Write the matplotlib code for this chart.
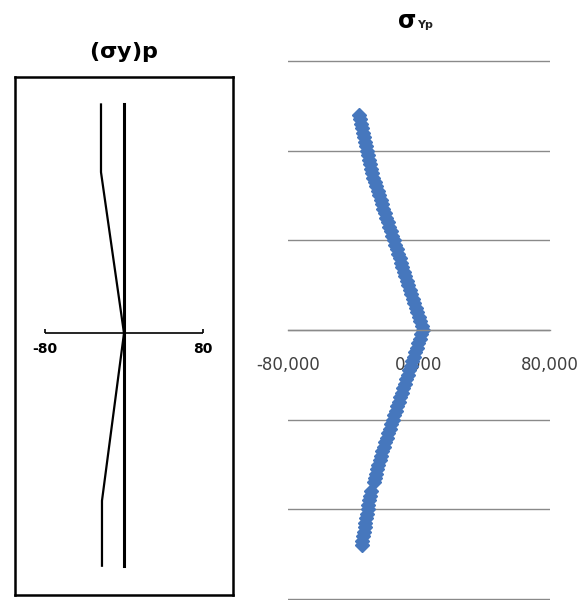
import matplotlib
matplotlib.use("Agg")
import matplotlib.pyplot as plt
from matplotlib.ticker import FuncFormatter

# ---- left panel: scanned design diagram (sigma_y)_p ----
left_depth = [2.50, 1.76, 0.00, -1.83, -2.54]
left_stress = [-23.3, -23.3, 0.0, -22.3, -22.3]
left_ref_depth = [2.50, -2.54]
left_ref_stress = [0.0, 0.0]
left_ticks = [-80, 80]

# ---- right panel: computed sigma_Yp along the depth ----
depth_a = [2.40, 2.35, 2.30, 2.25, 2.20, 2.15, 2.10, 2.05, 2.00, 1.95,
           1.90, 1.85, 1.80, 1.75]
stress_a = [-36.8, -36.1, -35.5, -34.9, -34.2, -33.6, -33.0, -32.3, -31.7,
            -31.1, -30.4, -29.8, -29.2, -28.5]

depth_b = [1.70, 1.65, 1.60, 1.55, 1.50, 1.45, 1.40, 1.35, 1.30, 1.25,
           1.20, 1.15, 1.10, 1.05, 1.00, 0.95, 0.90, 0.85, 0.80, 0.75,
           0.70, 0.65, 0.60, 0.55, 0.50, 0.45, 0.40, 0.35, 0.30, 0.25,
           0.20, 0.15, 0.10, 0.05, 0.00]
stress_b = [-28.0, -27.1, -26.2, -25.3, -24.4, -23.5, -22.6, -21.7, -20.8,
            -19.9, -19.1, -18.2, -17.3, -16.4, -15.5, -14.6, -13.7, -12.8,
            -11.9, -11.0, -10.1, -9.2, -8.3, -7.4, -6.5, -5.6, -4.7, -3.8,
            -2.9, -2.0, -1.1, -0.2, 0.7, 1.6, 2.4]

depth_c = [-0.05, -0.10, -0.15, -0.20, -0.25, -0.30, -0.35, -0.40, -0.45,
           -0.50, -0.55, -0.60, -0.65, -0.70, -0.75, -0.80, -0.85, -0.90,
           -0.95, -1.00, -1.05, -1.10, -1.15, -1.20, -1.25, -1.30, -1.35,
           -1.40, -1.45, -1.50, -1.55, -1.60, -1.65, -1.70]
stress_c = [1.5, 0.6, -0.4, -1.3, -2.2, -3.1, -4.0, -5.0, -5.9, -6.8, -7.7,
            -8.6, -9.6, -10.5, -11.4, -12.3, -13.2, -14.2, -15.1, -16.0,
            -16.9, -17.8, -18.8, -19.7, -20.6, -21.5, -22.4, -23.2, -24.0,
            -24.8, -25.5, -26.2, -26.9, -27.6]

depth_d = [-1.80, -1.85, -1.90, -1.95, -2.00, -2.05, -2.10, -2.15, -2.20,
           -2.25, -2.30, -2.35, -2.40]
stress_d = [-29.6, -30.1, -30.5, -31.0, -31.4, -31.9, -32.3, -32.8, -33.2,
            -33.7, -34.1, -34.6, -35.0]

right_xticks = [-80, 0, 80]
right_gridlines = [-3, -2, -1, 0, 1, 2, 3]

W, H = 584, 601
fig = plt.figure(figsize=(W / 100, H / 100), dpi=100)
fig.patch.set_facecolor("white")


def frac_box(x0, y0, x1, y1):
    """pixel box (top-left origin) -> figure fraction rect"""
    return [x0 / W, 1 - y1 / H, (x1 - x0) / W, (y1 - y0) / H]


# ---------------- left panel ----------------
axl = fig.add_axes(frac_box(15, 77, 233, 595))
axl.set_xlim(-110.4, 110.4)
axl.set_ylim(-2.86, 2.80)
axl.set_xticks([])
axl.set_yticks([])
for sp in axl.spines.values():
    sp.set_color("black")
    sp.set_linewidth(1.8)

axl.hlines(0, left_ticks[0], left_ticks[-1], color="black", lw=1.2)
for t in left_ticks:
    axl.vlines(t, 0, 0.05, color="black", lw=1.2)
    axl.annotate(f"{t:d}", (t, 0), xytext=(0, -11), textcoords="offset points",
                 ha="center", va="center", fontsize=10, color="black",
                 fontweight="semibold", family="DejaVu Sans")
axl.plot(left_ref_stress, left_ref_depth, color="black", lw=2.2)
axl.plot(left_stress, left_depth, color="black", lw=1.6)
axl.set_title(r"($\mathbf{\sigma}$y)p", fontsize=16, fontweight="bold",
              pad=14, family="DejaVu Sans")

# ---------------- right panel ----------------
axr = fig.add_axes(frac_box(288, 60, 550, 600))
axr.set_xlim(-80, 80)
axr.set_ylim(-3.01, 3.01)
axr.set_yticks(right_gridlines)
axr.yaxis.grid(True, color="#8a8a8a", lw=1.0)
axr.tick_params(axis="y", left=False, labelleft=False)
for side in ("top", "left", "right"):
    axr.spines[side].set_visible(False)
axr.spines["bottom"].set_position(("data", 0))
axr.spines["bottom"].set_color("#8a8a8a")
axr.spines["bottom"].set_linewidth(1.0)
axr.set_xticks(right_xticks)
axr.xaxis.set_major_formatter(
    FuncFormatter(lambda v, _: f"{v:.3f}".replace(".", ",")))
axr.tick_params(axis="x", length=0, pad=19, labelsize=12, labelcolor="#404040")
axr.set_axisbelow(True)

blue = "#4677bd"
for xs, ys in ((stress_a, depth_a), (stress_b, depth_b),
               (stress_c, depth_c), (stress_d, depth_d)):
    axr.plot(xs, ys, linestyle="none", marker="D", ms=7.6,
             color=blue, mec=blue, clip_on=False)

fig.text(416 / W, 1 - 21 / H, "σ", fontsize=17, fontweight="bold",
         ha="right", va="center", color="black")
fig.text(417 / W, 1 - 25 / H, "Yp", fontsize=8, fontweight="bold",
         ha="left", va="center", color="#222222")

fig.savefig("out.png", dpi=100, facecolor="white")
